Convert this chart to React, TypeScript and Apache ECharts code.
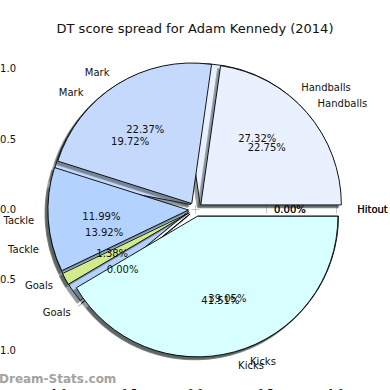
import React, { useEffect, useRef } from 'react';
import * as echarts from 'echarts';

const categories = ['Handballs', 'Mark', 'Tackle', 'Goals', 'Kicks', 'Hitout'];
// pie drawn first (underneath)
const spreadUnder = [27.32, 19.72, 13.92, 0.0, 39.05, 0.0];
// pie drawn on top
const spreadOver = [22.75, 22.37, 11.99, 1.38, 41.51, 0.0];
const sliceColors = ['#e9f0fe', '#c5d9fd', '#b3d3fe', '#d0ea8c', '#d8ffff', '#ffffff'];
const axisTicks = [-1, -0.5, 0, 0.5, 1];
const axisLimit = 1.22;
const explode = 0.05;
const labelDistance = 1.1;
const pctDistance = 0.6;
const shadowShift = 0.02;
const titleText = 'DT score spread for Adam Kennedy (2014)';
const watermark = 'Dream-Stats.com';

const FONT = 'DejaVu Sans';

export default function App() {
  const ref = useRef<HTMLDivElement>(null);
  useEffect(() => {
    const chart = echarts.init(ref.current!, null, { renderer: 'svg' });
    const fmtTick = (v: number) => (v < 0 ? '\u2212' + (-v).toFixed(1) : v.toFixed(1));
    const tick = {
      show: true,
      length: 4,
      customValues: axisTicks,
      lineStyle: { color: '#c4c4c4', width: 1 },
    };
    const axisBase = {
      type: 'value',
      min: -axisLimit,
      max: axisLimit,
      axisLine: { show: false },
      splitLine: { show: false },
      axisTick: tick,
    };
    const labelOn = {
      show: true,
      customValues: axisTicks,
      formatter: fmtTick,
      fontSize: 10,
      color: '#111',
      fontFamily: FONT,
      margin: 8,
    };
    chart.setOption({
      animation: false,
      textStyle: { fontFamily: FONT },
      title: {
        text: titleText,
        left: 'center',
        top: 17,
        textStyle: { fontFamily: FONT, fontSize: 13, fontWeight: 'normal', color: '#111' },
      },
      grid: { left: 24, right: 23, top: 38, bottom: 9, containLabel: false, outerBoundsMode: 'none' },
      xAxis: [
        { ...axisBase, position: 'bottom', axisLabel: { ...labelOn, margin: 7 } },
        { ...axisBase, position: 'top', axisLabel: { show: false } },
      ],
      yAxis: [
        { ...axisBase, position: 'left', axisLabel: labelOn },
        { ...axisBase, position: 'right', axisLabel: { show: false } },
      ],
      graphic: [
        {
          type: 'text',
          left: -1,
          top: 373,
          style: { text: watermark, fontSize: 12, fontFamily: FONT, fill: '#a3a3a3', fontWeight: 'bold' },
        },
      ],
    });

    const c = chart.convertToPixel({ gridIndex: 0 }, [0, 0]) as number[];
    const e = chart.convertToPixel({ gridIndex: 0 }, [1, 0]) as number[];
    const r = e[0] - c[0];

    const makeData = (vals: number[], colored: boolean) =>
      vals.map((v, i) => ({
        name: categories[i],
        value: v,
        selected: true,
        itemStyle: colored ? { color: sliceColors[i] } : undefined,
      }));

    const common = {
      type: 'pie',
      center: [c[0], c[1]],
      startAngle: 0,
      clockwise: false,
      selectedMode: 'multiple',
      selectedOffset: r * explode,
      avoidLabelOverlap: false,
      labelLayout: { hideOverlap: false },
      silent: true,
      emphasis: { disabled: true },
      minAngle: 0,
      stillShowZeroSum: true,
      animation: false,
    };

    const wedgeStyle = {
      borderColor: '#000',
      borderWidth: 0.9,
      shadowColor: 'rgba(40,48,48,0.5)',
      shadowBlur: 0,
      shadowOffsetX: -r * shadowShift,
      shadowOffsetY: r * shadowShift,
    };

    const wedges = (vals: number[], z: number) => ({
      ...common,
      z,
      radius: r,
      data: makeData(vals, true),
      itemStyle: wedgeStyle,
      label: { show: false },
      labelLine: { show: false },
    });

    const nameLabels = (vals: number[]) => ({
      ...common,
      z: 5,
      radius: r,
      data: makeData(vals, false),
      itemStyle: { color: 'rgba(0,0,0,0)', borderWidth: 0 },
      label: {
        show: true,
        position: 'outside',
        formatter: '{b}',
        fontSize: 10,
        fontFamily: FONT,
        color: '#111',
        distanceToLabelLine: 0,
      },
      labelLine: { show: false, length: r * (labelDistance - 1), length2: 0 },
    });

    const pctLabels = (vals: number[]) => ({
      ...common,
      z: 5,
      radius: [r * (2 * pctDistance - 1), r],
      data: makeData(vals, false),
      itemStyle: { color: 'rgba(0,0,0,0)', borderWidth: 0 },
      label: {
        show: true,
        position: 'inside',
        formatter: (p: any) => Number(p.value).toFixed(2) + '%',
        fontSize: 10,
        fontFamily: FONT,
        color: '#111',
      },
      labelLine: { show: false },
    });

    chart.setOption({
      series: [
        wedges(spreadUnder, 1),
        wedges(spreadOver, 2),
        nameLabels(spreadUnder),
        pctLabels(spreadUnder),
        nameLabels(spreadOver),
        pctLabels(spreadOver),
      ],
    });

    return () => chart.dispose();
  }, []);

  return <div ref={ref} style={{ width: 390, height: 390, position: 'absolute', left: 0, top: 0 }} />;
}
